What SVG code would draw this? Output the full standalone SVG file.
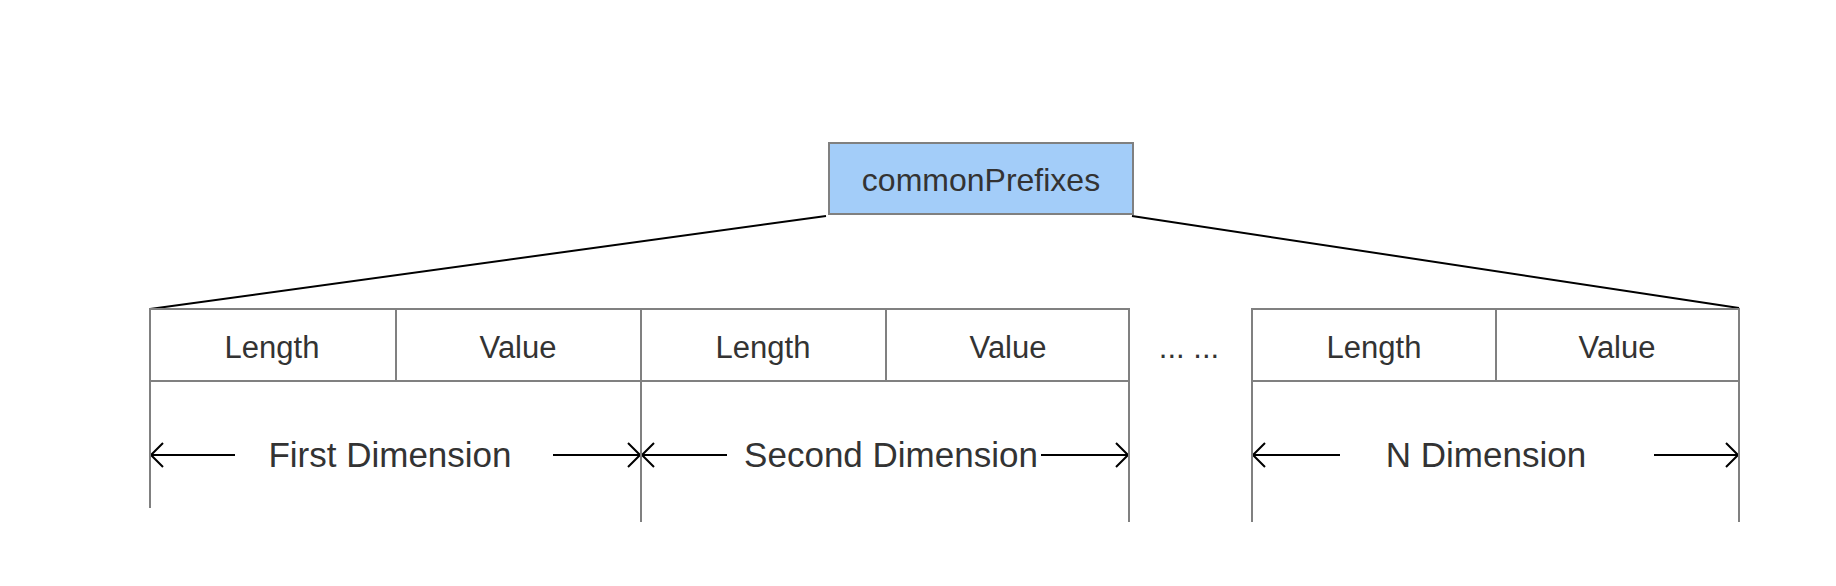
<svg xmlns="http://www.w3.org/2000/svg" width="1836" height="586" viewBox="0 0 1836 586">
<style>
.cell{fill:#ffffff;stroke:#808080;stroke-width:2}
.gl{stroke:#808080;stroke-width:2;fill:none}
.bl{stroke:#000000;stroke-width:2;fill:none}
.t{font-family:"Liberation Sans",Arial,sans-serif;fill:#333333;text-anchor:middle}
.s{font-size:31px}
.d{font-size:35px}
</style>
<defs>
<marker id="ah" viewBox="0 0 14 26" refX="13" refY="13" markerWidth="14" markerHeight="26" markerUnits="userSpaceOnUse" orient="auto-start-reverse">
<path d="M1,1 L13,13 L1,25" fill="none" stroke="#000" stroke-width="2"/>
</marker>
</defs>
<rect width="1836" height="586" fill="#ffffff"/>
<g id="connectors">
<line class="bl" x1="150" y1="309" x2="826" y2="216"/>
<line class="bl" x1="1132" y1="216" x2="1739" y2="308"/>
<line class="bl" x1="151" y1="455" x2="235" y2="455" marker-start="url(#ah)"/>
<line class="bl" x1="553" y1="455" x2="640" y2="455" marker-end="url(#ah)"/>
<line class="bl" x1="642" y1="455" x2="727" y2="455" marker-start="url(#ah)"/>
<line class="bl" x1="1041" y1="455" x2="1128" y2="455" marker-end="url(#ah)"/>
<line class="bl" x1="1253" y1="455" x2="1340" y2="455" marker-start="url(#ah)"/>
<line class="bl" x1="1654" y1="455" x2="1738" y2="455" marker-end="url(#ah)"/>
</g>
<g id="root">
<rect x="829" y="143" width="304" height="71" fill="#a3cdf9" stroke="#808080" stroke-width="2"/>
<text class="t" x="981" y="191" style="font-size:32px">commonPrefixes</text>
</g>
<g id="dim1">
<rect class="cell" x="150" y="309" width="246" height="72"/>
<rect class="cell" x="396" y="309" width="245" height="72"/>
<line class="gl" x1="150" y1="381" x2="150" y2="508"/>
<text class="t s" x="272" y="358">Length</text>
<text class="t s" x="518" y="358">Value</text>
<text class="t d" x="390" y="467">First Dimension</text>
</g>
<g id="dim2">
<rect class="cell" x="641" y="309" width="245" height="72"/>
<rect class="cell" x="886" y="309" width="243" height="72"/>
<line class="gl" x1="641" y1="381" x2="641" y2="522"/>
<line class="gl" x1="1129" y1="381" x2="1129" y2="522"/>
<text class="t s" x="763" y="358">Length</text>
<text class="t s" x="1008" y="358">Value</text>
<text class="t d" x="891" y="467">Second Dimension</text>
</g>
<g id="ellipsis">
<text class="t s" x="1189" y="358">... ...</text>
</g>
<g id="dimN">
<rect class="cell" x="1252" y="309" width="244" height="72"/>
<rect class="cell" x="1496" y="309" width="243" height="72"/>
<line class="gl" x1="1252" y1="381" x2="1252" y2="522"/>
<line class="gl" x1="1739" y1="381" x2="1739" y2="522"/>
<text class="t s" x="1374" y="358">Length</text>
<text class="t s" x="1617" y="358">Value</text>
<text class="t d" x="1486" y="467">N Dimension</text>
</g>
</svg>
